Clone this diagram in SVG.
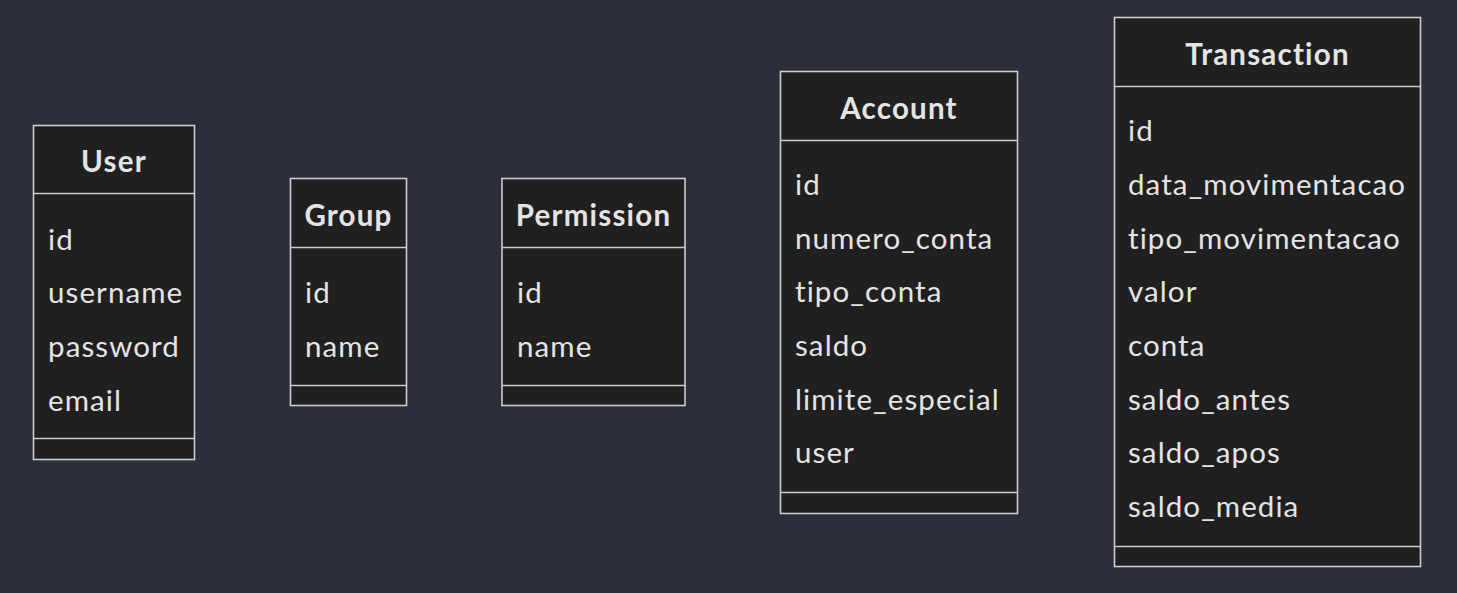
<svg xmlns="http://www.w3.org/2000/svg" width="1457" height="593" viewBox="0 0 1457 593">
<style>
.bg{fill:#2a2f3b}
.box{fill:#202020;stroke:#cccccc;stroke-width:1.6}
.ln{stroke:#cccccc;stroke-width:1.6}
.t{font-family:Lato,"Open Sans","DejaVu Sans",sans-serif;font-size:29.5px;letter-spacing:1.1px;fill:#e4e4e4}
.h{font-weight:bold;text-anchor:middle;letter-spacing:1.2px}
</style>
<rect class="bg" x="0" y="0" width="1457" height="593"/>
<g id="connectors"></g>
<g id="User">
<rect class="box" x="33.5" y="125.5" width="161" height="334"/>
<line class="ln" x1="33.5" y1="193.5" x2="194.5" y2="193.5"/>
<line class="ln" x1="33.5" y1="438.5" x2="194.5" y2="438.5"/>
<text class="t h" x="114" y="172">User</text>
<text class="t" x="48" y="250">id</text>
<text class="t" x="48" y="303">username</text>
<text class="t" x="48" y="357">password</text>
<text class="t" x="48" y="411">email</text>
</g>
<g id="Group">
<rect class="box" x="290.5" y="178.5" width="116" height="227"/>
<line class="ln" x1="290.5" y1="247.5" x2="406.5" y2="247.5"/>
<line class="ln" x1="290.5" y1="385.5" x2="406.5" y2="385.5"/>
<text class="t h" x="348.5" y="226">Group</text>
<text class="t" x="305" y="303">id</text>
<text class="t" x="305" y="357">name</text>
</g>
<g id="Permission">
<rect class="box" x="502" y="178.5" width="183" height="227"/>
<line class="ln" x1="502" y1="247.5" x2="685" y2="247.5"/>
<line class="ln" x1="502" y1="385.5" x2="685" y2="385.5"/>
<text class="t h" x="593.5" y="226">Permission</text>
<text class="t" x="517" y="303">id</text>
<text class="t" x="517" y="357">name</text>
</g>
<g id="Account">
<rect class="box" x="780.5" y="71.5" width="237" height="442"/>
<line class="ln" x1="780.5" y1="140.5" x2="1017.5" y2="140.5"/>
<line class="ln" x1="780.5" y1="492.5" x2="1017.5" y2="492.5"/>
<text class="t h" x="899" y="119">Account</text>
<text class="t" x="795" y="195">id</text>
<text class="t" x="795" y="249">numero_conta</text>
<text class="t" x="795" y="302">tipo_conta</text>
<text class="t" x="795" y="356">saldo</text>
<text class="t" x="795" y="410">limite_especial</text>
<text class="t" x="795" y="463">user</text>
</g>
<g id="Transaction">
<rect class="box" x="1114.5" y="17.5" width="306" height="549"/>
<line class="ln" x1="1114.5" y1="86.5" x2="1420.5" y2="86.5"/>
<line class="ln" x1="1114.5" y1="546.5" x2="1420.5" y2="546.5"/>
<text class="t h" x="1267.5" y="65">Transaction</text>
<text class="t" x="1128" y="141">id</text>
<text class="t" x="1128" y="195">data_movimentacao</text>
<text class="t" x="1128" y="249">tipo_movimentacao</text>
<text class="t" x="1128" y="302">valor</text>
<text class="t" x="1128" y="356">conta</text>
<text class="t" x="1128" y="410">saldo_antes</text>
<text class="t" x="1128" y="463">saldo_apos</text>
<text class="t" x="1128" y="517">saldo_media</text>
</g>
</svg>
